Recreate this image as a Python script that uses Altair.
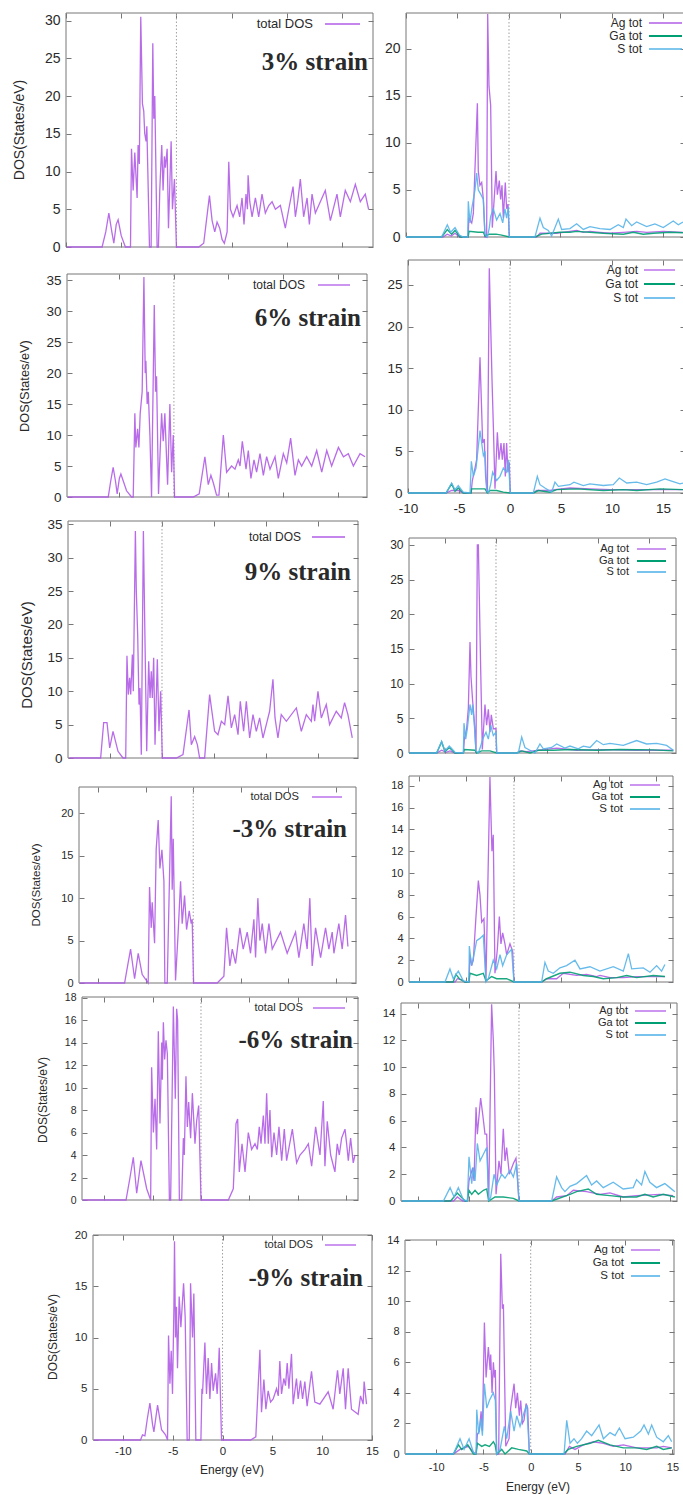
import altair as alt
import pandas as pd

# ---------------------------------------------------------------------------
# Density of states of the strained Ag-Ga-S cell: (energy in eV, DOS in states/eV)
# ---------------------------------------------------------------------------

# +3 % strain
TOTAL_P3 = [(-9.9, 0), (-6.73, 0), (-6.4, 2.0), (-6.12, 4.5), (-5.85, 2.0), (-5.67, 0.5), (-5.45, 3.0),
            (-5.28, 3.6), (-5.0, 1.5), (-4.62, 0), (-4.16, 0), (-4.07, 13.0), (-3.92, 7.5), (-3.77, 12.5),
            (-3.56, 6.5), (-3.47, 13.5), (-3.36, 11.0), (-3.23, 30.5), (-3.08, 19.0), (-2.96, 18.0),
            (-2.87, 15.0), (-2.75, 14.0), (-2.68, 16.0), (-2.59, 10.0), (-2.44, 0), (-2.29, 0), (-2.14, 27.0),
            (-2.05, 17.0), (-1.96, 20.0), (-1.75, 0), (-1.63, 0), (-1.51, 7.5), (-1.33, 13.5), (-1.21, 7.5),
            (-1.09, 12.0), (-1.0, 10.5), (-0.84, 13.0), (-0.72, 2.5), (-0.48, 14.0), (-0.36, 5.0), (-0.18, 9.0),
            (0.0, 0), (2.02, 0), (2.47, 0.5), (2.99, 6.8), (3.23, 3.5), (3.47, 2.0), (3.68, 3.3), (3.92, 2.5),
            (4.13, 1.0), (4.34, 0.5), (4.59, 2.0), (4.74, 11.3), (4.89, 5.0), (5.13, 4.0), (5.49, 5.5),
            (5.73, 4.0), (5.94, 6.5), (6.12, 3.0), (6.30, 7.0), (6.43, 5.0), (6.49, 9.5), (6.64, 6.0),
            (6.85, 4.0), (7.15, 6.5), (7.45, 4.0), (7.75, 7.0), (8.05, 4.5), (8.36, 5.5), (8.66, 6.0),
            (8.96, 5.0), (9.41, 5.5), (9.86, 2.5), (10.17, 5.0), (10.56, 8.0), (10.77, 4.0), (10.98, 6.0),
            (11.22, 9.0), (11.52, 4.0), (11.83, 6.5), (12.04, 3.0), (12.28, 7.0), (12.58, 4.5), (12.88, 5.5),
            (13.48, 7.5), (13.94, 3.5), (14.54, 7.0), (14.84, 4.0), (15.29, 7.5), (15.75, 6.0), (16.2, 8.3),
            (16.65, 6.0), (17.1, 7.0), (17.4, 5.0)]
AG_P3 = [(-10, 0), (-6.4, 0), (-6.0, 0.3), (-5.6, 0.1), (-5.24, 0.4), (-4.8, 0), (-3.97, 0), (-3.9, 2.0),
         (-3.62, 1.5), (-3.46, 2.5), (-3.07, 14.2), (-2.98, 7.0), (-2.82, 5.5), (-2.65, 5.8), (-2.49, 4.0),
         (-2.33, 0), (-2.17, 0), (-2.07, 23.7), (-1.94, 16.0), (-1.78, 14.0), (-1.62, 1.0), (-1.26, 7.0),
         (-1.13, 4.5), (-0.94, 6.0), (-0.81, 4.0), (-0.68, 5.5), (-0.55, 2.0), (-0.36, 5.8), (-0.23, 3.0),
         (-0.10, 3.5), (0.03, 0), (2.69, 0), (3.01, 0.4), (4.63, 0.4), (5.92, 0.6), (6.57, 0.7), (7.22, 0.5),
         (7.86, 0.6), (8.83, 0.5), (9.81, 0.4), (11.10, 0.5), (12.39, 0.6), (13.37, 0.5), (14.98, 0.6),
         (16.89, 0.5)]
GA_P3 = [(-10, 0), (-6.54, 0), (-5.99, 0.8), (-5.57, 0.3), (-5.24, 0.7), (-4.76, 0), (-3.97, 0), (-3.88, 0.6),
         (-3.0, 0.5), (-2.49, 0.5), (-2.33, 0.1), (-1.91, 0.3), (-1.26, 0.3), (-0.71, 0.2), (0.03, 0),
         (2.52, 0), (3.17, 0.3), (4.95, 0.5), (5.92, 0.5), (6.57, 0.6), (9.16, 0.4), (11.10, 0.3),
         (12.07, 0.5), (13.04, 0.3), (14.01, 0.4), (15.63, 0.5), (16.89, 0.45)]
S_P3 = [(-10, 0), (-6.54, 0), (-5.99, 1.3), (-5.66, 0.5), (-5.24, 1.0), (-4.82, 0.2), (-4.43, 0), (-4.01, 0),
        (-3.95, 3.8), (-3.79, 1.5), (-3.62, 3.0), (-3.30, 5.0), (-3.14, 6.8), (-2.98, 5.0), (-2.72, 4.5),
        (-2.49, 4.0), (-2.33, 0.3), (-2.10, 0), (-1.91, 1.0), (-1.78, 2.2), (-1.52, 3.0), (-1.20, 1.8),
        (-0.87, 2.5), (-0.61, 1.5), (-0.39, 3.0), (-0.23, 2.0), (-0.06, 3.2), (0.03, 0), (2.52, 0),
        (3.01, 2.0), (3.33, 1.0), (3.82, 0.7), (4.14, 0.1), (4.79, 1.9), (5.11, 0.8), (5.92, 0.9),
        (6.57, 1.4), (7.22, 0.8), (7.86, 1.1), (8.83, 0.9), (9.81, 0.8), (10.61, 1.3), (11.10, 1.0),
        (11.36, 1.9), (11.91, 1.2), (12.39, 1.6), (13.37, 1.1), (14.17, 1.4), (14.98, 1.0), (15.95, 1.7),
        (16.44, 1.3), (16.89, 1.6)]

# +6 % strain
TOTAL_P6 = [(-9.7, 0), (-6.02, 0), (-5.8, 2.5), (-5.57, 4.8), (-5.35, 2.5), (-5.20, 0.5), (-5.0, 3.0),
            (-4.86, 3.7), (-4.34, 1.0), (-3.88, 0), (-3.73, 0), (-3.58, 13.5), (-3.49, 8.0), (-3.33, 11.0),
            (-3.21, 8.0), (-3.09, 13.5), (-2.91, 17.0), (-2.75, 35.5), (-2.63, 20.0), (-2.57, 22.0),
            (-2.45, 15.0), (-2.35, 17.0), (-2.20, 10.0), (-2.05, 0), (-1.80, 31.0), (-1.68, 17.0),
            (-1.59, 19.5), (-1.41, 0.5), (-1.13, 13.5), (-0.98, 9.0), (-0.83, 13.5), (-0.58, 2.0),
            (-0.37, 15.0), (-0.21, 4.0), (-0.06, 10.0), (0.06, 0), (1.77, 0), (2.32, 0.5), (2.84, 6.5),
            (3.15, 2.0), (3.39, 3.5), (3.61, 2.3), (3.91, 0.3), (4.13, 0.3), (4.53, 10.0), (4.83, 4.0),
            (5.29, 5.0), (5.60, 4.5), (5.90, 6.0), (6.06, 5.0), (6.27, 9.0), (6.61, 4.5), (6.82, 7.5),
            (7.06, 3.0), (7.34, 6.0), (7.58, 4.0), (7.89, 7.0), (8.20, 3.5), (8.50, 6.5), (8.81, 4.5),
            (9.27, 6.5), (9.57, 3.0), (10.03, 7.0), (10.34, 5.5), (10.70, 9.5), (11.10, 3.5), (11.41, 6.0),
            (11.71, 5.0), (12.17, 6.5), (12.63, 5.0), (13.09, 7.5), (13.55, 4.0), (14.01, 7.5), (14.46, 5.0),
            (15.08, 8.0), (15.54, 6.5), (15.99, 7.0), (16.45, 5.0), (17.06, 7.0), (17.52, 6.5)]
AG_P6 = [(-10, 0), (-6.27, 0), (-5.72, 0.3), (-5.07, 0.3), (-4.58, 0), (-3.82, 0), (-3.69, 1.5), (-3.43, 3.0),
         (-3.27, 4.0), (-2.94, 16.3), (-2.68, 6.0), (-2.52, 6.5), (-2.39, 2.0), (-2.22, 0), (-2.03, 27.0),
         (-1.76, 13.5), (-1.63, 8.0), (-1.47, 0.5), (-1.24, 7.3), (-1.08, 4.0), (-0.88, 6.0), (-0.75, 4.0),
         (-0.59, 6.0), (-0.46, 2.0), (-0.33, 6.0), (-0.20, 2.5), (-0.07, 3.7), (0.03, 0), (2.29, 0),
         (2.61, 0.3), (3.92, 0.3), (4.41, 0.4), (5.88, 0.6), (7.84, 0.5), (9.80, 0.4), (12.42, 0.4),
         (14.71, 0.4), (16.96, 0.4)]
GA_P6 = [(-10, 0), (-6.27, 0), (-5.72, 1.1), (-5.39, 0.2), (-5.07, 0.6), (-4.58, 0), (-3.82, 0), (-3.76, 0.5),
         (-2.45, 0.5), (-2.22, 0), (-1.96, 0.3), (-1.31, 0.3), (-0.65, 0.1), (0.03, 0), (2.29, 0),
         (2.78, 0.3), (3.92, 0.1), (4.58, 0.4), (6.54, 0.5), (9.15, 0.3), (11.11, 0.4), (12.42, 0.3),
         (14.71, 0.5), (16.96, 0.4)]
S_P6 = [(-10, 0), (-6.27, 0), (-5.72, 1.2), (-5.39, 0.4), (-5.07, 0.9), (-4.58, 0.1), (-3.92, 0), (-3.79, 3.8),
        (-3.59, 2.0), (-3.33, 3.0), (-2.94, 7.5), (-2.61, 4.5), (-2.45, 5.0), (-2.29, 0.3), (-2.12, 0),
        (-1.90, 1.0), (-1.70, 2.5), (-1.31, 1.5), (-0.98, 2.0), (-0.65, 3.0), (-0.33, 2.5), (-0.16, 4.0),
        (0.03, 0), (2.29, 0), (2.68, 2.0), (2.94, 1.0), (3.43, 0.6), (4.08, 0.1), (4.41, 1.3), (4.74, 0.8),
        (5.88, 1.0), (6.27, 1.3), (7.19, 0.9), (7.84, 1.1), (9.15, 0.9), (10.13, 1.0), (10.72, 1.8),
        (11.44, 1.2), (12.42, 1.3), (13.40, 1.0), (14.38, 1.3), (15.20, 1.7), (15.69, 1.5), (16.67, 1.1),
        (16.96, 1.2)]

# +9 % strain
TOTAL_P9 = [(-8.9, 0), (-5.90, 0), (-5.61, 5.3), (-5.29, 5.3), (-5.03, 1.5), (-4.71, 4.0), (-4.23, 1.0),
            (-3.75, 0), (-3.49, 0), (-3.37, 15.3), (-3.24, 9.5), (-3.11, 12.0), (-3.01, 9.5), (-2.85, 15.5),
            (-2.76, 10.0), (-2.56, 34.0), (-2.47, 25.0), (-2.34, 18.5), (-2.21, 8.0), (-2.12, 10.5),
            (-1.99, 0.5), (-1.79, 34.0), (-1.63, 17.0), (-1.47, 1.0), (-1.28, 14.5), (-1.15, 9.0),
            (-1.03, 13.0), (-0.93, 9.0), (-0.80, 15.0), (-0.67, 2.0), (-0.45, 14.8), (-0.29, 4.0),
            (-0.13, 10.0), (0.03, 0), (1.38, 0), (2.02, 0.5), (2.60, 7.2), (2.82, 2.0), (3.14, 3.2),
            (3.40, 2.0), (3.62, 0), (4.10, 0), (4.58, 9.5), (5.06, 4.0), (5.38, 3.5), (5.71, 5.5), (6.03, 5.0),
            (6.35, 9.3), (6.67, 4.5), (6.99, 6.5), (7.31, 3.5), (7.53, 8.5), (7.85, 4.0), (8.11, 8.5),
            (8.43, 3.0), (8.75, 6.5), (9.07, 4.0), (9.39, 6.0), (9.71, 3.0), (10.03, 5.0), (10.35, 7.0),
            (10.67, 11.8), (10.87, 6.0), (11.15, 3.0), (11.47, 6.5), (11.96, 5.5), (12.92, 7.5), (13.40, 4.0),
            (13.88, 6.5), (14.36, 5.5), (14.52, 8.0), (14.68, 5.5), (15.0, 10.0), (15.32, 6.0), (15.80, 8.0),
            (16.12, 5.0), (16.76, 7.0), (17.24, 6.0), (17.56, 8.3), (17.88, 6.5), (18.30, 3.0)]
AG_P9 = [(-8.5, 0), (-5.82, 0), (-5.33, 0.4), (-4.9, 0.1), (-4.51, 0.3), (-4.02, 0), (-3.20, 0), (-3.10, 2.0),
         (-2.88, 3.5), (-2.71, 6.5), (-2.55, 16.0), (-2.45, 11.0), (-2.29, 7.5), (-2.12, 4.5), (-1.96, 0),
         (-1.83, 30.0), (-1.73, 30.0), (-1.50, 12.0), (-1.34, 0.5), (-1.08, 7.0), (-0.92, 4.0), (-0.75, 6.3),
         (-0.59, 3.0), (-0.46, 5.5), (-0.26, 3.5), (0.0, 3.5), (0.07, 0), (2.03, 0), (2.35, 0.3), (3.01, 0.2),
         (4.64, 0.5), (5.95, 0.7), (7.91, 0.4), (10.52, 0.5), (13.79, 0.4), (17.39, 0.4)]
GA_P9 = [(-8.5, 0), (-5.82, 0), (-5.33, 1.6), (-5.0, 0.2), (-4.58, 0.8), (-4.02, 0), (-3.20, 0), (-3.10, 0.5),
         (-2.06, 0.4), (-1.90, 0), (-1.41, 0.3), (-0.59, 0.3), (0.07, 0), (2.03, 0), (2.52, 0.3), (3.33, 0),
         (4.15, 0.4), (5.62, 0.4), (7.25, 0.5), (9.87, 0.4), (12.16, 0.5), (15.42, 0.45), (17.39, 0.3)]
S_P9 = [(-8.5, 0), (-5.82, 0), (-5.33, 1.7), (-5.0, 0.3), (-4.58, 1.0), (-4.02, 0.1), (-3.20, 0), (-3.14, 4.3),
        (-2.97, 2.0), (-2.81, 3.5), (-2.55, 7.0), (-2.39, 5.5), (-2.29, 7.0), (-2.12, 4.0), (-1.96, 0.3),
        (-1.73, 0), (-1.50, 1.0), (-1.31, 2.0), (-0.98, 3.0), (-0.75, 2.0), (-0.52, 4.0), (-0.26, 2.5),
        (0.0, 3.0), (0.07, 0), (2.19, 0), (2.52, 2.3), (2.84, 0.8), (3.33, 0.4), (3.82, 0), (4.31, 1.3),
        (4.64, 0.6), (5.46, 0.8), (5.95, 1.3), (6.76, 0.7), (7.25, 1.0), (8.07, 0.6), (8.56, 1.0),
        (9.22, 0.8), (9.87, 1.8), (10.52, 1.2), (11.18, 1.4), (12.48, 1.1), (13.79, 1.8), (14.77, 1.3),
        (15.75, 1.4), (16.73, 1.1), (17.39, 0.4)]

# -3 % strain
TOTAL_M3 = [(-11.9, 0), (-7.21, 0), (-6.9, 2.0), (-6.58, 4.0), (-6.16, 0.5), (-5.78, 3.5), (-5.36, 1.0),
            (-4.73, 0), (-4.59, 11.3), (-4.41, 6.5), (-4.31, 9.5), (-4.06, 4.7), (-3.89, 15.8), (-3.68, 19.2),
            (-3.50, 13.5), (-3.29, 15.7), (-3.08, 12.0), (-2.98, 0), (-2.73, 0), (-2.31, 22.0), (-2.21, 11.0),
            (-2.10, 17.0), (-1.86, 0.3), (-1.58, 6.0), (-1.33, 12.0), (-1.16, 7.0), (-0.91, 10.3),
            (-0.70, 6.3), (-0.42, 8.5), (-0.21, 7.0), (-0.11, 7.5), (0.04, 0), (2.52, 0), (3.22, 0.8),
            (3.50, 6.5), (3.85, 2.0), (4.10, 4.0), (4.45, 2.3), (4.90, 6.5), (5.25, 4.0), (5.67, 6.0),
            (6.02, 3.5), (6.37, 7.5), (6.55, 3.0), (6.79, 10.0), (7.00, 5.0), (7.25, 7.0), (7.60, 3.5),
            (7.95, 7.0), (8.30, 4.0), (9.17, 6.0), (9.87, 3.5), (10.75, 6.0), (11.10, 3.0), (11.62, 7.0),
            (11.97, 4.0), (12.25, 10.0), (12.50, 2.0), (12.85, 6.5), (13.38, 3.0), (13.90, 6.5), (14.25, 4.0),
            (14.60, 6.0), (14.78, 3.5), (15.30, 7.0), (15.65, 4.0), (16.0, 8.0), (16.25, 4.3)]
AG_M3 = [(-11, 0), (-6.2, 0), (-5.96, 0.3), (-5.51, 0.2), (-5.2, 0), (-4.74, 0), (-4.63, 2.5), (-4.46, 1.5),
         (-4.28, 2.0), (-4.0, 6.0), (-3.75, 9.3), (-3.58, 8.0), (-3.40, 5.5), (-3.16, 5.8), (-2.95, 0),
         (-2.53, 18.8), (-2.32, 12.0), (-2.18, 13.5), (-2.0, 0.8), (-1.75, 3.0), (-1.54, 6.0), (-1.37, 3.5),
         (-1.19, 4.5), (-0.95, 3.5), (-0.77, 2.5), (-0.42, 3.5), (-0.14, 2.8), (0.0, 0), (2.91, 0),
         (3.44, 0.3), (4.49, 0.3), (5.19, 0.8), (6.60, 0.6), (7.65, 0.7), (8.70, 0.5), (9.05, 0.6),
         (10.11, 0.4), (11.51, 0.4), (12.91, 0.5), (15.89, 0.5)]
GA_M3 = [(-11, 0), (-6.4, 0), (-6.11, 0.7), (-5.75, 0.3), (-5.16, 0), (-4.74, 0), (-4.63, 0.8), (-3.93, 0.6),
         (-3.23, 0.8), (-2.95, 0.1), (-2.35, 0.5), (-1.82, 0.3), (-0.77, 0.3), (0.0, 0), (2.91, 0),
         (3.44, 0.3), (4.84, 0.8), (5.89, 0.9), (7.30, 0.6), (8.35, 0.5), (9.40, 0.3), (10.81, 0.4),
         (11.86, 0.6), (12.91, 0.4), (14.67, 0.6), (15.89, 0.5)]
S_M3 = [(-11, 0), (-7.26, 0), (-6.74, 1.2), (-6.39, 0.3), (-5.86, 1.0), (-5.33, 0.1), (-4.74, 0), (-4.70, 3.3),
        (-4.46, 1.5), (-4.21, 2.5), (-3.93, 3.8), (-3.58, 4.0), (-3.23, 4.3), (-2.95, 0), (-2.70, 0.3),
        (-2.18, 2.0), (-1.82, 1.2), (-1.47, 2.5), (-1.19, 1.5), (-0.77, 2.5), (-0.25, 3.0), (0.0, 0),
        (2.91, 0), (3.26, 1.8), (3.61, 1.0), (4.14, 0.8), (4.84, 1.3), (5.54, 1.5), (6.42, 2.0), (6.95, 1.2),
        (8.0, 1.4), (9.05, 1.0), (10.46, 1.4), (11.51, 1.0), (12.04, 2.6), (12.39, 1.2), (13.61, 1.3),
        (14.32, 0.9), (15.02, 1.5), (15.54, 1.0), (15.89, 1.6)]

# -6 % strain
TOTAL_M6 = [(-12.2, 0), (-7.73, 0), (-7.32, 2.0), (-6.98, 3.8), (-6.63, 0.6), (-6.19, 3.5), (-5.60, 1.0),
            (-5.19, 0), (-5.09, 11.8), (-4.91, 6.0), (-4.74, 9.0), (-4.57, 4.5), (-4.40, 15.0), (-4.23, 6.8),
            (-4.05, 14.0), (-3.99, 10.7), (-3.88, 15.8), (-3.75, 12.5), (-3.61, 14.2), (-3.47, 13.0),
            (-3.26, 0), (-3.13, 0), (-2.85, 17.2), (-2.65, 9.0), (-2.51, 17.0), (-2.41, 16.0), (-2.23, 0),
            (-1.99, 0), (-1.82, 5.5), (-1.72, 4.0), (-1.55, 11.0), (-1.41, 6.5), (-1.27, 8.7), (-1.07, 5.5),
            (-0.89, 9.5), (-0.62, 5.0), (-0.45, 7.0), (-0.24, 8.4), (0.0, 0), (2.82, 0), (3.33, 1.0),
            (3.61, 6.8), (3.78, 7.2), (3.95, 2.5), (4.23, 5.0), (4.54, 2.5), (4.88, 6.0), (5.22, 4.5),
            (5.57, 5.0), (5.81, 4.5), (6.01, 6.5), (6.19, 5.0), (6.43, 7.5), (6.60, 5.0), (6.77, 9.5),
            (6.94, 5.0), (7.11, 8.0), (7.29, 3.8), (7.53, 6.0), (7.80, 4.0), (8.04, 6.5), (8.32, 3.5),
            (8.59, 6.3), (8.83, 3.5), (9.42, 6.3), (9.86, 3.3), (10.21, 4.0), (10.72, 4.5), (11.07, 5.0),
            (11.41, 3.0), (11.82, 6.5), (12.27, 4.0), (12.61, 8.8), (12.78, 3.0), (13.02, 7.0), (13.37, 4.0),
            (13.81, 2.5), (14.05, 5.0), (14.26, 4.0), (14.50, 5.5), (14.85, 6.3), (15.02, 5.0), (15.19, 3.5),
            (15.43, 5.5), (15.70, 3.3), (15.88, 4.0)]
AG_M6 = [(-11.6, 0), (-6.5, 0), (-6.13, 0.3), (-5.6, 0), (-5.13, 0), (-4.97, 1.5), (-4.60, 2.5), (-4.47, 1.5),
         (-4.27, 7.0), (-4.14, 5.0), (-3.81, 7.7), (-3.61, 6.5), (-3.38, 5.0), (-3.21, 5.0), (-3.01, 0),
         (-2.72, 14.7), (-2.55, 12.0), (-2.45, 9.5), (-2.28, 0.5), (-1.99, 3.0), (-1.79, 2.0), (-1.56, 5.4),
         (-1.39, 3.0), (-1.23, 4.0), (-0.96, 2.0), (-0.56, 2.8), (-0.30, 3.2), (0.0, 0), (3.25, 0),
         (3.74, 0.3), (4.74, 0.4), (5.40, 0.8), (6.72, 0.7), (8.05, 0.5), (9.04, 0.6), (10.36, 0.3),
         (11.69, 0.4), (14.01, 0.5), (15.33, 0.4)]
GA_M6 = [(-11.6, 0), (-6.8, 0), (-6.13, 0.6), (-5.36, 0), (-5.13, 0), (-4.97, 0.8), (-4.70, 0.5), (-4.37, 0.8),
         (-4.04, 0.5), (-3.54, 0.8), (-3.21, 0.9), (-3.01, 0), (-2.38, 0.3), (-1.56, 0.3), (-0.56, 0.2),
         (0.0, 0), (3.25, 0), (5.07, 0.5), (5.73, 0.7), (6.89, 0.9), (7.72, 0.5), (9.04, 0.4), (10.36, 0.3),
         (11.69, 0.3), (12.52, 0.5), (13.34, 0.3), (14.34, 0.5), (15.50, 0.3)]
S_M6 = [(-11.6, 0), (-7.52, 0), (-6.85, 1.0), (-6.46, 0.3), (-6.03, 1.0), (-5.53, 0.1), (-5.13, 0), (-4.97, 3.3),
        (-4.70, 1.3), (-4.54, 2.5), (-4.37, 1.5), (-4.14, 4.3), (-3.87, 3.0), (-3.54, 3.5), (-3.21, 4.0),
        (-3.01, 0), (-2.81, 0.3), (-2.48, 2.0), (-2.22, 1.2), (-1.72, 2.0), (-1.39, 1.7), (-0.89, 2.3),
        (-0.56, 1.8), (-0.23, 2.8), (0.0, 0), (3.25, 0), (3.74, 1.8), (4.24, 1.0), (4.57, 0.7), (5.07, 1.1),
        (5.73, 1.3), (6.72, 1.9), (7.22, 1.2), (7.72, 1.5), (8.38, 1.0), (9.37, 1.4), (10.36, 0.9),
        (11.36, 1.0), (11.69, 1.6), (12.19, 1.2), (12.52, 2.2), (13.01, 1.4), (13.68, 1.0), (14.50, 1.3),
        (15.0, 1.0), (15.50, 0.7)]

# -9 % strain
TOTAL_M9 = [(-12.9, 0), (-8.23, 0), (-8.03, 0.5), (-7.79, 0.4), (-7.56, 2.0), (-7.29, 3.6), (-7.02, 1.5),
            (-6.89, 0.8), (-6.52, 3.4), (-6.12, 1.0), (-5.72, 0.5), (-5.52, 0), (-5.42, 10.2), (-5.28, 5.5),
            (-5.15, 8.7), (-5.02, 4.5), (-4.88, 13.0), (-4.82, 19.4), (-4.72, 10.0), (-4.62, 13.0),
            (-4.52, 7.0), (-4.35, 14.0), (-4.18, 11.0), (-3.91, 15.3), (-3.75, 12.0), (-3.55, 0), (-3.34, 0),
            (-3.21, 15.3), (-3.01, 10.0), (-2.88, 14.3), (-2.68, 0), (-2.17, 0), (-2.07, 5.0), (-2.01, 4.5),
            (-1.77, 9.5), (-1.61, 4.5), (-1.44, 8.0), (-1.27, 4.0), (-1.10, 7.5), (-0.94, 4.8), (-0.70, 6.5),
            (-0.54, 4.5), (-0.43, 6.5), (-0.33, 9.0), (-0.10, 0), (2.81, 0), (3.34, 0.3), (3.75, 8.8),
            (3.91, 2.7), (4.15, 5.9), (4.35, 3.0), (4.58, 4.8), (4.82, 3.7), (5.08, 4.0), (5.42, 5.0),
            (5.59, 4.3), (5.75, 7.7), (5.92, 4.5), (6.15, 6.0), (6.32, 5.3), (6.49, 7.5), (6.66, 5.0),
            (6.92, 8.4), (7.09, 3.5), (7.42, 6.0), (7.59, 4.0), (7.83, 5.8), (8.03, 4.0), (8.26, 5.7),
            (8.49, 3.3), (8.93, 6.7), (9.26, 3.7), (9.77, 3.5), (10.60, 4.7), (11.10, 3.0), (11.54, 6.8),
            (11.77, 4.5), (12.11, 7.0), (12.34, 3.0), (12.61, 7.0), (12.94, 3.0), (13.61, 2.5), (13.85, 4.3),
            (14.11, 3.5), (14.21, 5.7), (14.45, 3.5)]
AG_M9 = [(-13.2, 0), (-8.18, 0), (-7.48, 0.3), (-6.59, 0.5), (-5.89, 0), (-5.78, 0), (-5.64, 1.3), (-5.43, 1.5),
         (-5.25, 2.8), (-5.11, 1.5), (-4.90, 8.6), (-4.72, 5.0), (-4.48, 7.0), (-4.30, 5.5), (-4.23, 6.5),
         (-4.09, 4.0), (-3.95, 6.0), (-3.84, 5.0), (-3.74, 5.5), (-3.60, 0), (-3.39, 0), (-3.17, 13.1),
         (-3.0, 9.5), (-2.89, 9.8), (-2.79, 6.0), (-2.64, 0.5), (-2.29, 1.0), (-2.12, 3.0), (-1.76, 4.6),
         (-1.59, 3.0), (-1.41, 4.0), (-1.20, 2.5), (-1.06, 3.5), (-0.88, 2.0), (-0.71, 2.2), (-0.49, 3.3),
         (-0.32, 3.0), (-0.14, 0), (3.63, 0), (4.09, 0.5), (4.69, 0.3), (5.57, 0.6), (6.63, 0.8), (7.69, 0.7),
         (8.74, 0.5), (9.80, 0.6), (11.21, 0.4), (13.33, 0.4), (14.03, 0.5), (14.92, 0.4)]
GA_M9 = [(-13.2, 0), (-8.18, 0), (-7.65, 0.6), (-7.30, 0.3), (-6.66, 0.6), (-6.06, 0), (-5.78, 0), (-5.64, 0.7),
         (-5.18, 0.5), (-4.83, 0.6), (-4.37, 0.5), (-3.95, 0.8), (-3.77, 0.6), (-3.60, 0), (-3.07, 0.3),
         (-2.72, 0), (-2.01, 0.4), (-1.30, 0.3), (-0.42, 0.2), (-0.14, 0), (3.46, 0), (3.98, 0.3), (4.87, 0.5),
         (6.28, 0.7), (7.16, 0.9), (8.39, 0.6), (9.80, 0.4), (11.21, 0.4), (12.27, 0.3), (13.33, 0.5),
         (14.03, 0.3), (14.92, 0.4)]
S_M9 = [(-13.2, 0), (-8.18, 0), (-7.48, 1.0), (-7.05, 0.3), (-6.52, 1.0), (-6.06, 0.1), (-5.78, 0), (-5.71, 2.9),
        (-5.50, 1.3), (-5.29, 2.3), (-5.11, 1.2), (-4.90, 4.6), (-4.65, 3.0), (-4.37, 3.5), (-4.13, 3.8),
        (-3.95, 4.0), (-3.74, 3.5), (-3.60, 0), (-3.24, 0.3), (-2.79, 1.8), (-2.54, 1.0), (-2.12, 2.8),
        (-1.76, 1.5), (-1.48, 2.5), (-1.13, 1.8), (-0.71, 2.7), (-0.42, 3.2), (-0.14, 0), (3.53, 0),
        (3.81, 2.2), (4.16, 0.7), (4.58, 1.0), (4.94, 0.7), (5.39, 1.0), (5.92, 1.5), (6.45, 1.2), (7.23, 1.9),
        (7.69, 1.0), (8.39, 1.4), (8.92, 1.2), (9.38, 1.7), (9.98, 1.0), (10.86, 1.1), (11.64, 1.5),
        (11.99, 1.9), (12.45, 1.3), (12.80, 1.9), (13.33, 1.1), (14.03, 0.8), (14.56, 1.2), (14.92, 0.8)]

STRAIN_LABELS = ["3% strain", "6% strain", "9% strain", "-3% strain", "-6% strain", "-9% strain"]
ENERGY_TICKS = [-10, -5, 0, 5, 10, 15]

# ---------------------------------------------------------------------------
# Styling and page layout
# ---------------------------------------------------------------------------
W, H = 683, 1495
VIOLET = "#b05ce6"
GREEN = "#009e73"
SKY = "#56b4e9"
FRAME = "#777777"
INK = "#2a2a2a"
SANS = "Liberation Sans"
SERIF = "Liberation Serif"
ONE = pd.DataFrame({"k": [0]})

# plot boxes in page pixels: x (left, right), y (bottom, top)
LEFT = [
    dict(xdom=(-10, 17.8), xpx=(66, 373), ydom=(0, 31), ypx=(247, 13), yticks=range(0, 31, 5), font=14),
    dict(xdom=(-9.8, 17.7), xpx=(67, 367), ydom=(0, 36), ypx=(497, 274), yticks=range(0, 36, 5), font=13.5),
    dict(xdom=(-9.04, 18.85), xpx=(68, 358), ydom=(0, 35.5), ypx=(758, 521), yticks=range(0, 36, 5), font=13.5),
    dict(xdom=(-12, 17.1), xpx=(79, 356), ydom=(0, 23.1), ypx=(983, 787), yticks=range(0, 21, 5), font=11),
    dict(xdom=(-12.27, 16.19), xpx=(82, 358), ydom=(0, 18.05), ypx=(1200, 997), yticks=range(0, 19, 2), font=10.5),
    dict(xdom=(-13, 15), xpx=(93, 372), ydom=(0, 20), ypx=(1440, 1235), yticks=range(0, 21, 5), font=11.5,
         xlabels=True, xpad=5),
]
RIGHT = [
    dict(xdom=(-10, 17.09), xpx=(406, 685), ydom=(0, 23.8), ypx=(237, 13), yticks=range(0, 21, 5), font=14),
    dict(xdom=(-10, 17.16), xpx=(408, 685), ydom=(0, 28), ypx=(493, 260), yticks=range(0, 26, 5), font=13.5,
         xlabels=True, xpad=8),
    dict(xdom=(-8.53, 17.65), xpx=(409, 676), ydom=(0, 31), ypx=(753, 538), yticks=range(0, 31, 5), font=12),
    dict(xdom=(-11.05, 16.74), xpx=(409, 673), ydom=(0, 18.9), ypx=(982, 776), yticks=range(0, 19, 2), font=11),
    dict(xdom=(-11.73, 15.71), xpx=(401, 677), ydom=(0, 14.8), ypx=(1201, 1003), yticks=range(0, 15, 2), font=11.5),
    dict(xdom=(-13.3, 15.16), xpx=(405, 674), ydom=(0, 14), ypx=(1454, 1240), yticks=range(0, 15, 2), font=11,
         xlabels=True, xpad=7),
]


def dos_panel(cfg, curves):
    """One gnuplot-style DOS box: frame with inward ticks, Fermi level, curves."""
    xdom, xpx, ydom, ypx = cfg["xdom"], cfg["xpx"], cfg["ydom"], cfg["ypx"]
    left, right = xpx
    bottom, top = ypx
    xs = alt.Scale(domain=list(xdom), range=list(xpx), nice=False, zero=False)
    ys = alt.Scale(domain=list(ydom), range=list(ypx), nice=False, zero=False)
    xticks = [v for v in ENERGY_TICKS if xdom[0] - 1e-6 <= v <= xdom[1] + 1e-6]
    yticks = list(cfg["yticks"])
    inward = dict(labels=False, domain=False, grid=False, ticks=True, tickSize=5,
                  tickColor=FRAME, tickWidth=1, title=None)

    box = pd.DataFrame({"e0": [xdom[0]], "e1": [xdom[1]], "d0": [ydom[0]], "d1": [ydom[1]]})
    frame = alt.Chart(box).mark_rect(fillOpacity=0, stroke=FRAME, strokeWidth=1).encode(
        x=alt.X("e0:Q", scale=xs, axis=alt.Axis(orient="top", offset=-bottom, values=xticks, **inward)),
        x2="e1:Q",
        y=alt.Y("d0:Q", scale=ys, axis=alt.Axis(orient="right", offset=left - W, values=yticks, **inward)),
        y2="d1:Q",
    )
    fermi_df = pd.DataFrame({"e": [0.0], "d0": [ydom[0]], "d1": [ydom[1]]})
    fermi = alt.Chart(fermi_df).mark_rule(color="#a0a0a0", strokeDash=[1.5, 2], strokeWidth=1).encode(
        x=alt.X("e:Q", scale=xs, axis=alt.Axis(orient="bottom", offset=top - H, values=xticks, **inward)),
        y=alt.Y("d0:Q", scale=ys, axis=alt.Axis(orient="left", offset=-right, values=yticks, **inward)),
        y2="d1:Q",
    )

    label_style = dict(domain=False, grid=False, ticks=False, title=None, labelFont=SANS,
                       labelFontSize=cfg["font"], labelColor=INK)
    xaxis = None
    if cfg.get("xlabels"):
        # plain hyphen-minus for negative energies, as gnuplot prints them
        xaxis = alt.Axis(orient="bottom", offset=bottom - H, values=xticks, labelPadding=cfg["xpad"],
                         labelFlush=False, labelExpr="'' + datum.value", **label_style)
    yaxis = alt.Axis(orient="left", offset=-left, values=yticks, labelPadding=6, **label_style)

    layers = [frame, fermi]
    for i, (pts, color, width) in enumerate(curves):
        df = pd.DataFrame(pts, columns=["E", "DOS"])
        layers.append(
            alt.Chart(df).mark_line(color=color, strokeWidth=width, opacity=0.9).encode(
                x=alt.X("E:Q", scale=xs, axis=xaxis if i == 0 else None),
                y=alt.Y("DOS:Q", scale=ys, axis=yaxis if i == 0 else None),
            )
        )
    return alt.layer(*layers).resolve_axis(x="independent", y="independent")


def note(text, x, y, size, font=SANS, weight="normal", align="right", angle=0, baseline="middle"):
    return alt.Chart(ONE).mark_text(text=text, font=font, fontSize=size, fontWeight=weight, align=align,
                                    baseline=baseline, angle=angle, color=INK).encode(
        x=alt.value(x), y=alt.value(y))


def key_line(x0, x1, y, color, width):
    return alt.Chart(ONE).mark_rule(color=color, strokeWidth=width).encode(
        x=alt.value(x0), x2=alt.value(x1), y=alt.value(y))


totals = [TOTAL_P3, TOTAL_P6, TOTAL_P9, TOTAL_M3, TOTAL_M6, TOTAL_M9]
partials = [(AG_P3, GA_P3, S_P3), (AG_P6, GA_P6, S_P6), (AG_P9, GA_P9, S_P9),
            (AG_M3, GA_M3, S_M3), (AG_M6, GA_M6, S_M6), (AG_M9, GA_M9, S_M9)]

panels = []
for cfg, tot in zip(LEFT, totals):
    panels.append(dos_panel(cfg, [(tot, VIOLET, 1.3)]))
for cfg, (ag, ga, s) in zip(RIGHT, partials):
    panels.append(dos_panel(cfg, [(ag, VIOLET, 1.3), (ga, GREEN, 1.4), (s, SKY, 1.3)]))

notes = []
# strain captions (right edge, baseline)
strain_pos = [(368, 70), (361, 326), (351, 580), (347, 837), (353, 1048), (363, 1286)]
for text, (x, y) in zip(STRAIN_LABELS, strain_pos):
    notes.append(note(text, x, y, 25, font=SERIF, weight="bold", baseline="alphabetic"))

# "total DOS" keys: text right edge, row y, sample start/end, font size
total_keys = [(313, 24, 325, 360, 13), (305, 285, 318, 350, 12), (301, 537, 312, 345, 12),
              (299, 797, 312, 342, 11.2), (303, 1008, 313, 345, 11.2), (313, 1245, 325, 356, 11.2)]
for xr, y, x0, x1, fs in total_keys:
    notes.append(note("total DOS", xr, y, fs))
    notes.append(key_line(x0, x1, y, VIOLET, 1.3))

# partial DOS keys
partial_keys = [(642, (23, 36, 49), 649, 682, 12), (638, (270, 284, 298), 644, 675, 12),
                (629, (549, 561, 572), 637, 666, 11), (623, (785, 797, 809), 630, 660, 11.5),
                (628, (1011, 1023, 1035), 635, 666, 11), (624, (1250, 1263, 1276), 631, 660, 11.5)]
for xr, ys_, x0, x1, fs in partial_keys:
    for name, y, color, width in zip(["Ag tot", "Ga tot", "S tot"], ys_, [VIOLET, GREEN, SKY], [1.3, 2.0, 1.6]):
        notes.append(note(name, xr, y, fs))
        notes.append(key_line(x0, x1, y, color, width))

# axis titles
for x, y, fs in [(20, 130, 14), (25, 386, 12.8), (27, 655, 15), (37, 885, 11.6), (43, 1100, 12), (53, 1337, 12)]:
    notes.append(note("DOS(States/eV)", x, y, fs, align="center", angle=270))
notes.append(note("Energy (eV)", 232, 1470, 12, align="center"))
notes.append(note("Energy (eV)", 538, 1487, 12, align="center"))

chart = (
    alt.layer(*panels, *notes)
    .resolve_scale(x="independent", y="independent")
    .resolve_axis(x="independent", y="independent")
    .properties(width=W, height=H, padding=0, background="white",
                autosize=alt.AutoSizeParams(type="none"))
    .configure_view(strokeOpacity=0)
)

chart.save("out.html", embed_options={"renderer": "svg", "actions": False})
